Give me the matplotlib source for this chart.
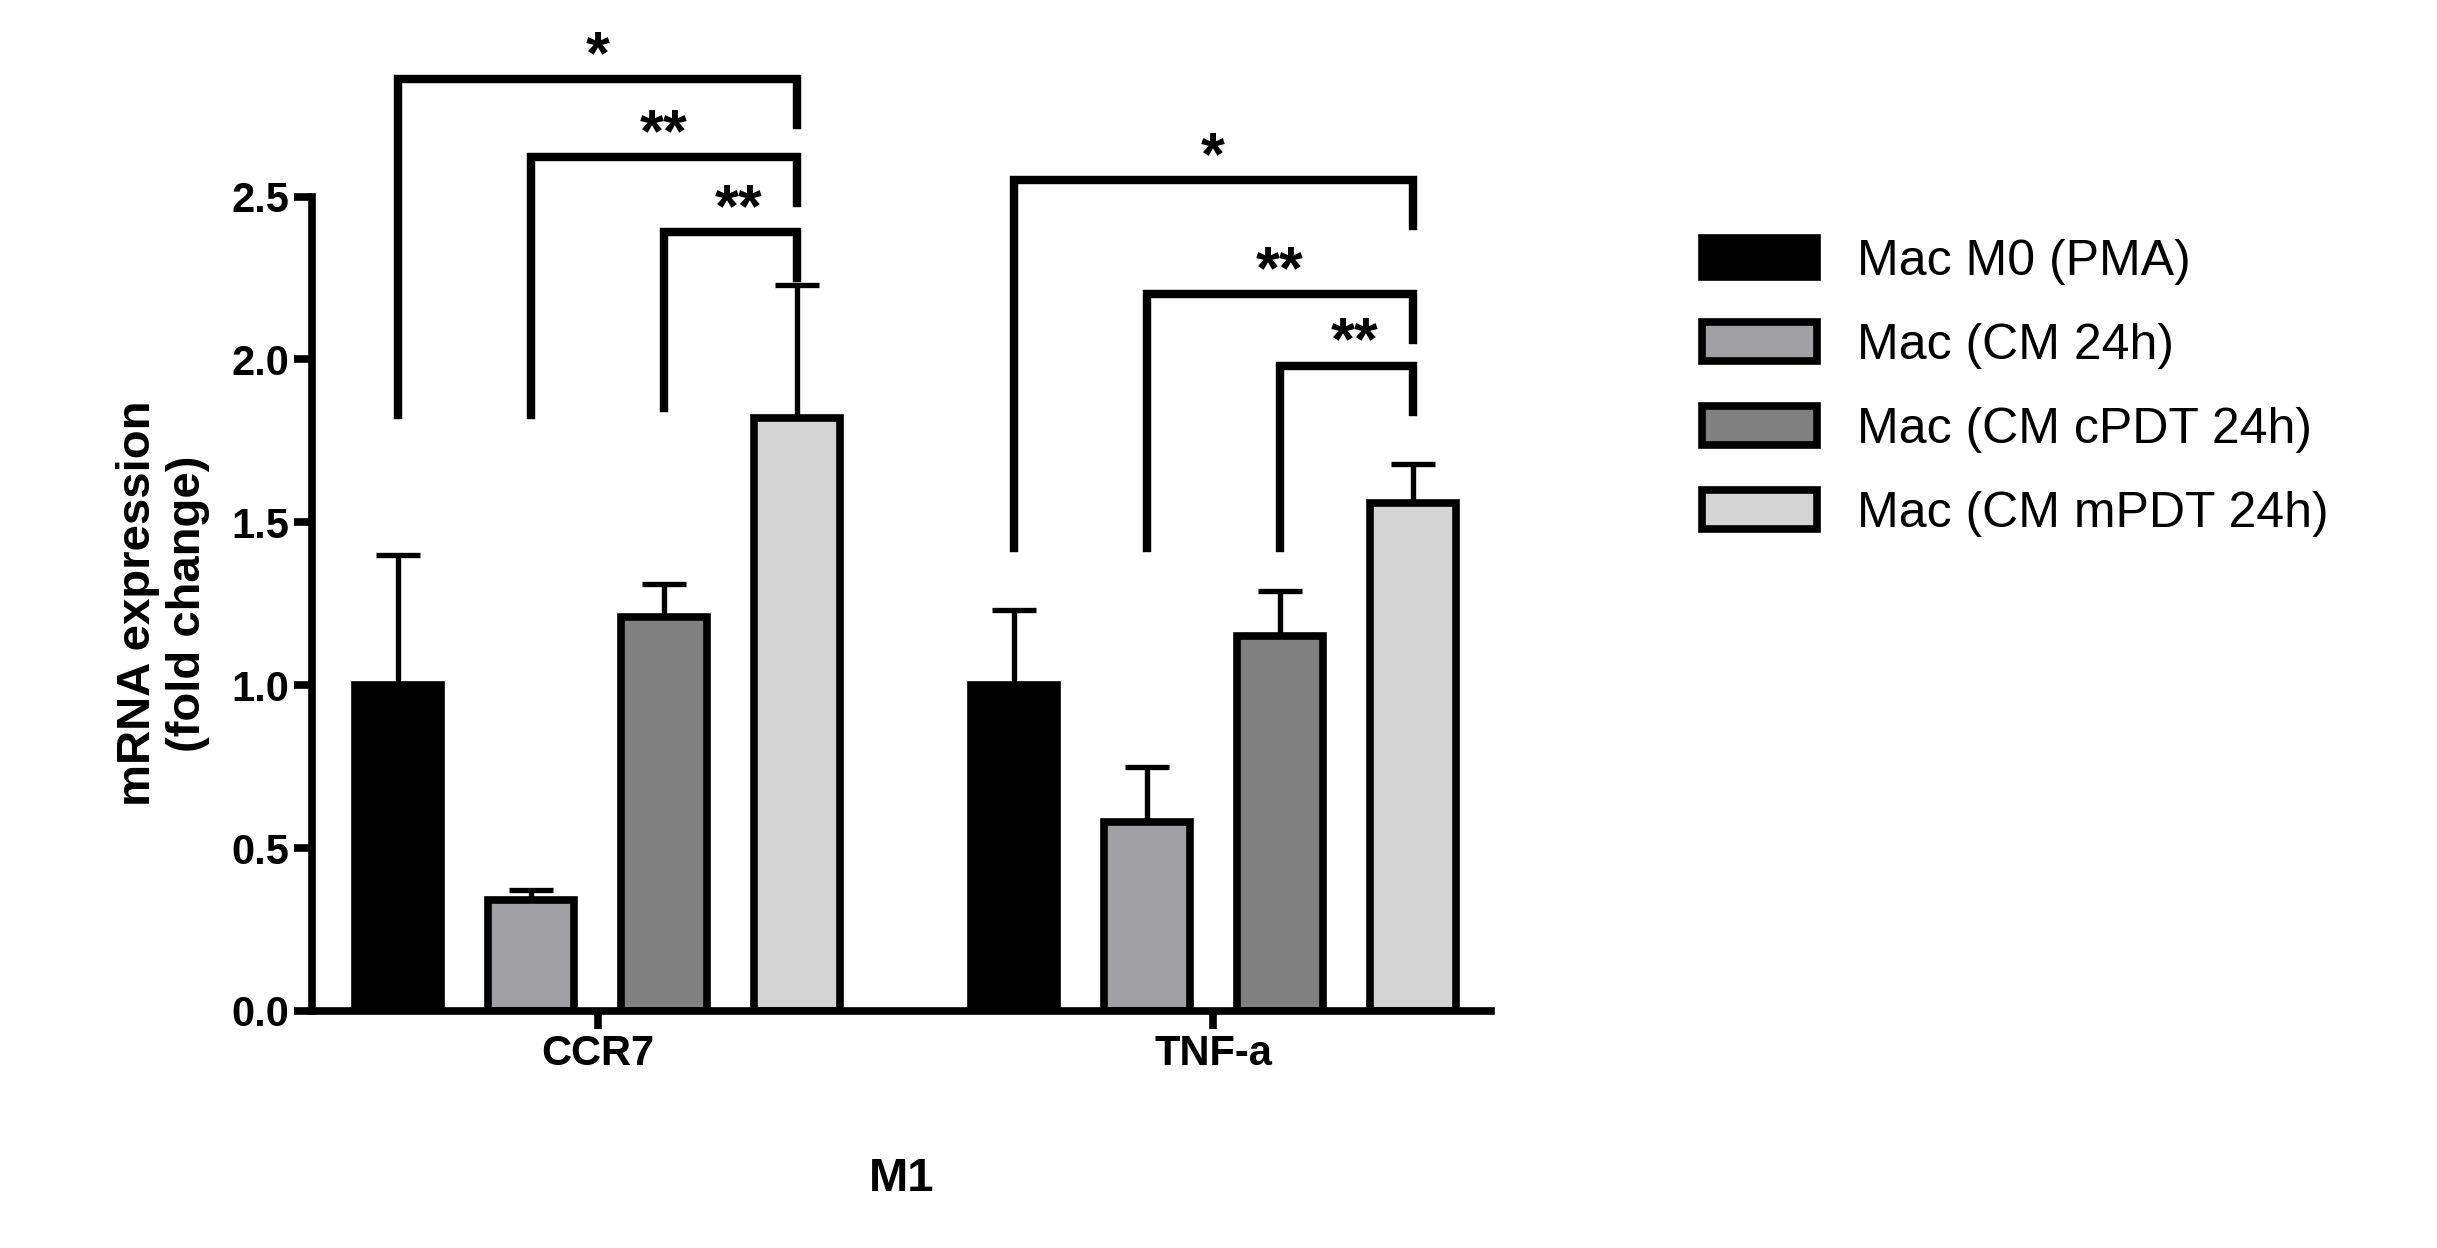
import matplotlib
matplotlib.use("Agg")
import matplotlib.pyplot as plt
import numpy as np
from matplotlib.patches import Patch

plt.rcParams['font.family'] = ['Liberation Sans', 'DejaVu Sans']

genes = ["CCR7", "TNF-a"]
series = ["Mac M0 (PMA)", "Mac (CM 24h)", "Mac (CM cPDT 24h)", "Mac (CM mPDT 24h)"]
means = {"Mac M0 (PMA)": [1.0, 1.0],
         "Mac (CM 24h)": [0.34, 0.58],
         "Mac (CM cPDT 24h)": [1.21, 1.15],
         "Mac (CM mPDT 24h)": [1.82, 1.56]}
errs = {"Mac M0 (PMA)": [0.40, 0.23],
        "Mac (CM 24h)": [0.03, 0.17],
        "Mac (CM cPDT 24h)": [0.10, 0.14],
        "Mac (CM mPDT 24h)": [0.41, 0.12]}
colors = ["#000000", "#a0a0a4", "#808080", "#d4d4d4"]
brackets = [(0, 0, 2.86, 1.83, "*"), (0, 1, 2.62, 1.83, "**"), (0, 2, 2.39, 1.85, "**"),
            (1, 0, 2.55, 1.42, "*"), (1, 1, 2.20, 1.42, "**"), (1, 2, 1.98, 1.42, "**")]

fig = plt.figure(figsize=(24.37, 12.48), dpi=100)
ax = fig.add_axes([0.128, 0.19, 0.484, 0.6525])
lw = 5.5
group_x = np.array([0.0, 1.0])
offs = np.array([-0.324, -0.108, 0.108, 0.324])
width = 0.14
for i, s in enumerate(series):
    x = group_x + offs[i]
    ax.bar(x, means[s], width, color=colors[i], edgecolor="black", linewidth=lw, zorder=2)
    ax.errorbar(x, means[s], yerr=[np.zeros(2), errs[s]], fmt="none", ecolor="black",
                elinewidth=lw * 0.7, capsize=16, capthick=lw * 0.7, zorder=1)

for g, si, y, lb, lab in brackets:
    x0 = group_x[g] + offs[si]
    x1 = group_x[g] + offs[3]
    ax.plot([x0, x0, x1, x1], [lb, y, y, y - 0.14], color="black", lw=lw * 1.1,
            clip_on=False, solid_joinstyle="miter")
    if lab == "*":
        xt = (x0 + x1) / 2
    else:
        xt = (x0 + x1) / 2 if si == 1 else x1 - 0.095
    ax.text(xt, y - 0.02, lab, ha="center", va="bottom", fontsize=44, fontweight="bold")

ax.set_xlim(-0.464, 1.452)
ax.set_ylim(0, 2.5)
ax.set_yticks([0, 0.5, 1.0, 1.5, 2.0, 2.5])
ax.set_yticklabels(["0.0", "0.5", "1.0", "1.5", "2.0", "2.5"])
ax.set_xticks(group_x)
ax.set_xticklabels(genes)
for sp in ["top", "right"]:
    ax.spines[sp].set_visible(False)
for sp in ["left", "bottom"]:
    ax.spines[sp].set_linewidth(lw)
ax.tick_params(width=lw, length=13, labelsize=30)
for t in ax.get_xticklabels() + ax.get_yticklabels():
    t.set_fontweight("bold")
ax.set_ylabel("mRNA expression\n(fold change)", fontsize=34, fontweight="bold", labelpad=15)
ax.set_xlabel("M1", fontsize=34, fontweight="bold", labelpad=60)

handles = [Patch(facecolor=c, edgecolor="black", linewidth=lw) for c in colors]
fig.legend(handles, series, loc="upper left", bbox_to_anchor=(0.68, 0.845), frameon=False,
           fontsize=36, handlelength=2.3, handleheight=0.8, labelspacing=0.75, handletextpad=0.8)
fig.savefig("out.png", dpi=100)
